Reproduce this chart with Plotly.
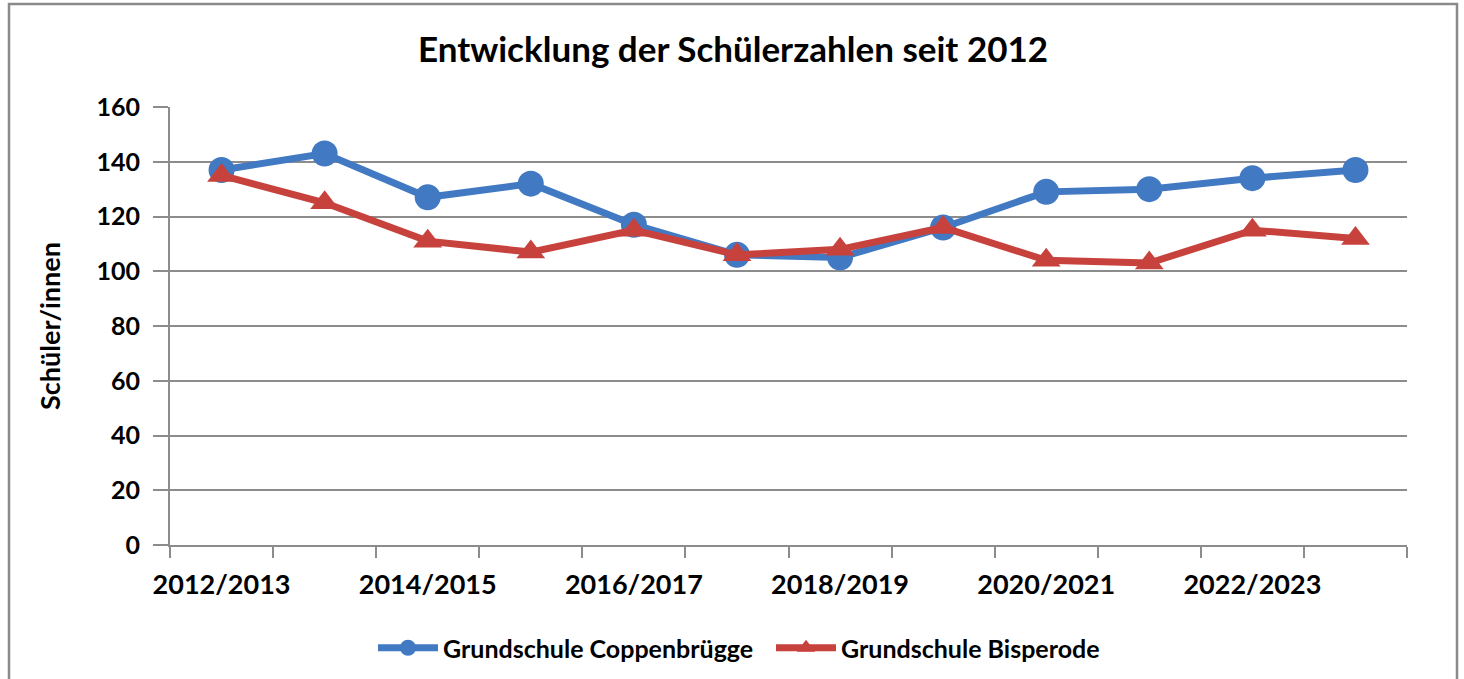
import plotly.graph_objects as go

categories = ["2012/2013", "2013/2014", "2014/2015", "2015/2016", "2016/2017", "2017/2018",
              "2018/2019", "2019/2020", "2020/2021", "2021/2022", "2022/2023", "2023/2024"]
coppenbruegge = [137, 143, 127, 132, 117, 106, 105, 116, 129, 130, 134, 137]
bisperode = [135, 125, 111, 107, 115, 106, 108, 116, 104, 103, 115, 112]

title_text = "Entwicklung der Schülerzahlen seit 2012"
y_title = "Schüler/innen"
name_a = "Grundschule Coppenbrügge"
name_b = "Grundschule Bisperode"

FONT = "Lato"
BLUE = "#4279C3"
RED = "#C8423D"
GRAY = "#8C8C8C"

x_idx = list(range(len(categories)))

fig = go.Figure()
fig.add_trace(go.Scatter(
    x=x_idx, y=coppenbruegge, name="<b>" + name_a + "</b>", mode="lines+markers",
    line=dict(color=BLUE, width=7),
    marker=dict(symbol="circle", size=26, color=BLUE),
))
fig.add_trace(go.Scatter(
    x=x_idx, y=bisperode, name="<b>" + name_b + "</b>", mode="lines+markers",
    line=dict(color=RED, width=7),
    marker=dict(symbol="triangle-up", size=25, color=RED),
))

fig.update_layout(
    width=1464, height=679,
    margin=dict(l=170, r=57, t=107, b=134, autoexpand=False),
    paper_bgcolor="white", plot_bgcolor="white",
    font=dict(family=FONT, color="black"),
    title=dict(text="<b>" + title_text + "</b>", x=733 / 1464, xanchor="center", xref="container",
               y=1 - 50 / 679, yanchor="middle", yref="container", font=dict(size=35, family=FONT)),
    showlegend=True,
    legend=dict(orientation="h", xref="container", yref="container",
                x=373 / 1464, xanchor="left", y=1 - 648 / 679, yanchor="middle",
                font=dict(size=25, family=FONT), itemwidth=60, traceorder="normal",
                entrywidth=323, entrywidthmode="pixels"),
    shapes=[dict(type="rect", xref="paper", yref="paper",
                 x0=(9 - 170) / 1237, x1=(1457 - 170) / 1237,
                 y0=(545 - 690) / 438, y1=(545 - 4) / 438,
                 line=dict(color="#8A8A8A", width=2.5), layer="below")],
)

fig.update_xaxes(
    range=[-0.5, len(categories) - 0.5],
    tickmode="array", tickvals=x_idx[::2], ticktext=["<b>" + c + "</b>" for c in categories[::2]],
    ticks="", tickfont=dict(size=27, family=FONT),
    minor=dict(tickmode="linear", tick0=-0.5, dtick=1, ticks="outside", ticklen=11,
               tickwidth=2, tickcolor=GRAY, showgrid=False),
    showgrid=False, zeroline=False,
    showline=True, linecolor=GRAY, linewidth=2,
    ticklabelstandoff=15,
)
fig.update_yaxes(
    range=[0, 160], dtick=20, tick0=0,
    tickformat="d",
    ticks="outside", ticklen=15, tickwidth=2, tickcolor=GRAY,
    tickfont=dict(size=25, family=FONT),
    tickprefix="<b>", ticksuffix="</b>",
    showgrid=True, gridcolor=GRAY, gridwidth=2,
    zeroline=False, showline=True, linecolor=GRAY, linewidth=2,
    ticklabelstandoff=8,
    title=dict(text="<b>" + y_title + "</b>", font=dict(size=27, family=FONT), standoff=28),
)

fig.write_html("out.html", config={"displayModeBar": False},
               post_script="document.body.style.margin='0';document.body.style.overflow='hidden';")
